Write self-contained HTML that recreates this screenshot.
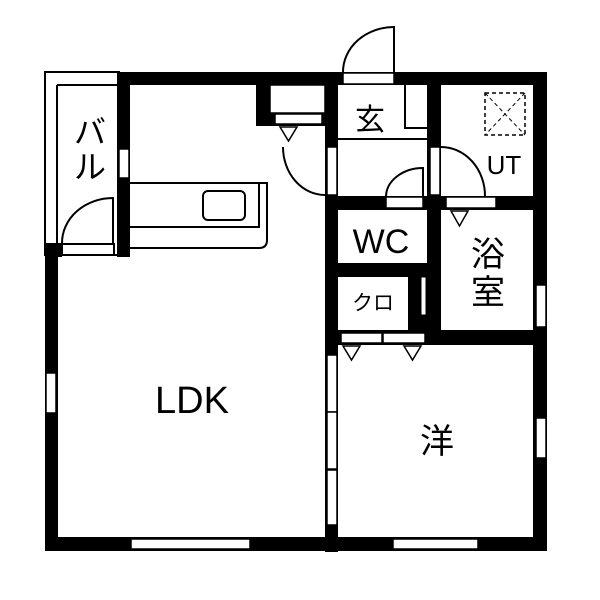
<!DOCTYPE html>
<html><head><meta charset="utf-8"><style>html,body{margin:0;padding:0;background:#fff}svg{display:block}text{font-family:"Liberation Sans","Noto Sans CJK JP",sans-serif;fill:#000}</style></head><body>
<svg width="600" height="600" viewBox="0 0 600 600" xmlns="http://www.w3.org/2000/svg">
<rect width="600" height="600" fill="#fff"/>
<rect x="45" y="72" width="74" height="183" fill="none" stroke="#000" stroke-width="2"/>
<line x1="57" y1="85" x2="57" y2="243" stroke="#000" stroke-width="2"/>
<line x1="57" y1="85" x2="117" y2="85" stroke="#000" stroke-width="2"/>
<rect x="45" y="243" width="17" height="14" fill="#000"/>
<rect x="62" y="244" width="52" height="11" fill="#fff" stroke="#000" stroke-width="2"/>
<path d="M62 243 A51 45 0 0 1 113 198 L113 243" fill="none" stroke="#000" stroke-width="2"/>
<rect x="117" y="72" width="430" height="13" fill="#000"/>
<rect x="117" y="72" width="13" height="185" fill="#000"/>
<rect x="45" y="243" width="13" height="308" fill="#000"/>
<rect x="45" y="537" width="502" height="14" fill="#000"/>
<rect x="533" y="72" width="14" height="479" fill="#000"/>
<rect x="119" y="149" width="10" height="29" fill="#fff" stroke="#000" stroke-width="1.5"/>
<rect x="46" y="373" width="10" height="40" fill="#fff" stroke="#000" stroke-width="1.5"/>
<rect x="131" y="539" width="119" height="10" fill="#fff" stroke="#000" stroke-width="1.5"/>
<rect x="393" y="539" width="85" height="10" fill="#fff" stroke="#000" stroke-width="1.5"/>
<rect x="536" y="418" width="10" height="40" fill="#fff" stroke="#000" stroke-width="1.5"/>
<rect x="536" y="285" width="10" height="42" fill="#fff" stroke="#000" stroke-width="1.5"/>
<rect x="343" y="73" width="51" height="11" fill="#fff" stroke="#000" stroke-width="1.5"/>
<path d="M343 72 A51 45 0 0 1 394 27 L394 72" fill="none" stroke="#000" stroke-width="2"/>
<rect x="256" y="85" width="14" height="41" fill="#000"/>
<rect x="256" y="113" width="70" height="13" fill="#000"/>
<rect x="270" y="85" width="55" height="28" fill="#fff" stroke="#000" stroke-width="1.5"/>
<rect x="275" y="114" width="47" height="10" fill="#fff" stroke="#000" stroke-width="1.5"/>
<path d="M280 127 L297 127 L288.5 141 Z" fill="#fff" stroke="#000" stroke-width="1.5"/>
<rect x="325" y="72" width="13" height="480" fill="#000"/>
<rect x="327" y="147" width="10" height="48" fill="#fff" stroke="#000" stroke-width="1.5"/>
<path d="M283 147 A42 48 0 0 0 325 195" fill="none" stroke="#000" stroke-width="2"/>
<rect x="327" y="355" width="10" height="57" fill="#fff" stroke="#000" stroke-width="1.5"/>
<rect x="327" y="412" width="10" height="57" fill="#fff" stroke="#000" stroke-width="1.5"/>
<rect x="327" y="470" width="10" height="55" fill="#fff" stroke="#000" stroke-width="1.5"/>
<path d="M130 183 L267 183 L267 240 Q267 248 259 248 L130 248" fill="#fff" stroke="#000" stroke-width="2"/>
<path d="M130 227 L259 227 L259 183" fill="none" stroke="#000" stroke-width="2"/>
<rect x="203" y="191" width="42" height="29" rx="5" fill="#fff" stroke="#000" stroke-width="2"/>
<path d="M405 85 L405 128 L428 128" fill="none" stroke="#000" stroke-width="2"/>
<line x1="338" y1="139" x2="427" y2="139" stroke="#000" stroke-width="2"/>
<rect x="427" y="72" width="14" height="273" fill="#000"/>
<rect x="430" y="147" width="10" height="48" fill="#fff" stroke="#000" stroke-width="1.5"/>
<path d="M441 147 A44 49 0 0 1 485 196" fill="none" stroke="#000" stroke-width="2"/>
<rect x="485" y="93" width="40" height="42" fill="none" stroke="#000" stroke-width="1.5" stroke-dasharray="4,3"/>
<line x1="485" y1="93" x2="525" y2="135" stroke="#000" stroke-width="1" stroke-dasharray="4,3"/>
<line x1="525" y1="93" x2="485" y2="135" stroke="#000" stroke-width="1" stroke-dasharray="4,3"/>
<rect x="338" y="196" width="209" height="14" fill="#000"/>
<rect x="386" y="197" width="37" height="11" fill="#fff" stroke="#000" stroke-width="1.5"/>
<path d="M386 197 A37 29 0 0 1 423 168 L423 197" fill="none" stroke="#000" stroke-width="2"/>
<rect x="446" y="197" width="50" height="11" fill="#fff" stroke="#000" stroke-width="1.5"/>
<path d="M451 211 L468 211 L459.5 226 Z" fill="#fff" stroke="#000" stroke-width="1.5"/>
<rect x="338" y="263" width="90" height="14" fill="#000"/>
<rect x="408" y="263" width="20" height="67" fill="#000"/>
<rect x="421" y="277" width="5" height="38" fill="#fff" stroke="#000" stroke-width="1"/>
<rect x="338" y="330" width="209" height="15" fill="#000"/>
<rect x="341" y="333" width="41" height="10" fill="#fff" stroke="#000" stroke-width="1.5"/>
<rect x="383" y="333" width="42" height="10" fill="#fff" stroke="#000" stroke-width="1.5"/>
<path d="M343 346 L360 346 L351.5 360 Z" fill="#fff" stroke="#000" stroke-width="1.5"/>
<path d="M404 346 L421 346 L412.5 360 Z" fill="#fff" stroke="#000" stroke-width="1.5"/>
<text x="90" y="143" font-size="32" text-anchor="middle">バ</text>
<text x="90" y="178" font-size="32" text-anchor="middle">ル</text>
<text x="370" y="130" font-size="30" text-anchor="middle">玄</text>
<text x="504" y="174" font-size="26" text-anchor="middle">UT</text>
<text x="381" y="253" font-size="34" text-anchor="middle">WC</text>
<text x="373" y="310" font-size="21" text-anchor="middle">クロ</text>
<text x="488" y="266" font-size="34" text-anchor="middle">浴</text>
<text x="488" y="304" font-size="34" text-anchor="middle">室</text>
<text x="192" y="413" font-size="38" text-anchor="middle">LDK</text>
<text x="437" y="453" font-size="34" text-anchor="middle">洋</text>
</svg>
</body></html>
